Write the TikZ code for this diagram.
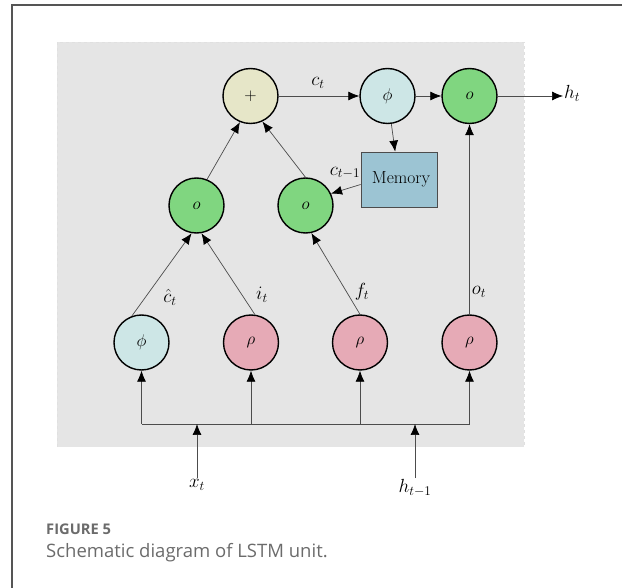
\documentclass[tikz,border=0pt]{standalone}
\usepackage{fix-cm}
\usepackage{fontspec}
\newfontfamily\capfont{Open Sans}
\usetikzlibrary{arrows.meta}

\definecolor{bggray}{HTML}{E5E5E5}
\definecolor{plusfill}{HTML}{E6E6C8}
\definecolor{phifill}{HTML}{CDE6E6}
\definecolor{gatefill}{HTML}{80D680}
\definecolor{sigfill}{HTML}{E6AAB6}
\definecolor{memfill}{HTML}{9CC4D3}
\definecolor{framecol}{HTML}{555555}
\definecolor{captext}{HTML}{6B6B6B}

\tikzset{
  unit/.style={circle, draw=black, line width=1.4pt, minimum size=55pt, inner sep=0pt,
               font=\fontsize{17}{20}\selectfont},
  lbl/.style={font=\fontsize{19}{22}\selectfont, inner sep=1pt},
  conn/.style={draw=black!70, line width=0.7pt, -{Latex[length=11pt,width=9pt,black]}},
  wire/.style={draw=black!70, line width=0.7pt},
}

\begin{document}
\begin{tikzpicture}[x=1pt, y=-1pt]
  \useasboundingbox (0,0) rectangle (622,588);
  \clip (0,0) rectangle (622,588);

  % outer figure frame (open to the right and bottom)
  \draw[framecol, line width=1.5pt] (12,640) -- (12,5) -- (660,5);

  % shaded cell region
  \fill[bggray] (57,42) rectangle (524,447);
  \draw[white!88!black, dashed, line width=0.5pt] (57,447) -- (57,42) -- (524,42) -- (524,447);

  % top row
  \node[unit, fill=plusfill] (plus) at (250.5,96) {$+$};
  \node[unit, fill=phifill]  (phit) at (387.5,96) {$\phi$};
  \node[unit, fill=gatefill] (ot)   at (469.5,96) {$o$};

  % memory cell
  \node[draw=black!70, line width=0.8pt, fill=memfill, minimum width=76pt, minimum height=55pt,
        inner sep=0pt, font=\fontsize{17.5}{21}\selectfont] (mem) at (399,179.5) {\hspace{4pt}Memory};

  % middle row
  \node[unit, fill=gatefill] (ol) at (196.5,205.5) {$o$};
  \node[unit, fill=gatefill] (or) at (305.5,205.5) {$o$};

  % bottom row
  \node[unit, fill=phifill] (pb) at (141.5,342.5) {$\phi$};
  \node[unit, fill=sigfill] (r1) at (251,342.5)   {$\rho$};
  \node[unit, fill=sigfill] (r2) at (360,342.5)   {$\rho$};
  \node[unit, fill=sigfill] (r3) at (469.5,342.5) {$\rho$};

  % output label
  \node[lbl, anchor=west] (htl) at (563,93) {$h_t$};

  % inputs
  \node[lbl, anchor=north] (xt)  at (197,478) {$x_t$};
  \node[lbl, anchor=north] (htm) at (415,478) {$h_{t-1}$};

  % input bus
  \coordinate (busL) at (141.5,424);
  \coordinate (busR) at (469.5,424);
  \draw[wire] (busL) -- (busR);
  \draw[conn] (busL) -- (pb);
  \draw[conn] (r1 |- busL) -- (r1);
  \draw[conn] (r2 |- busL) -- (r2);
  \draw[conn] (busR) -- (r3);
  \draw[conn] (xt.north) -- (xt.north |- busL);
  \draw[conn] (htm.north) -- (htm.north |- busL);

  % gates to products
  \draw[conn] (pb.110) -- (ol.260);
  \draw[conn] (r1.82) -- (ol.280);
  \draw[conn] (r2.north) -- (or.282);
  \draw[conn] (r3.north) -- (ot.south);

  % products to sum
  \draw[conn] (ol.68) -- (plus.248);
  \draw[conn] (or.north) -- (plus.295);

  % cell state path
  \draw[conn] (plus) -- (phit);
  \draw[conn] (phit) -- (ot);
  \draw[conn] (ot) -- (htl.west |- ot);
  \draw[conn] (phit) -- (mem);
  \draw[conn] ([yshift=-5pt]mem.west) -- (or.25);

  % signal labels
  \node[lbl] at (318,83)  {$c_t$};
  \node[lbl] at (345,173) {$c_{t-1}$};
  \node[lbl] at (170,297) {$\hat{c}_t$};
  \node[lbl] at (262,295) {$i_t$};
  \node[lbl] at (362,292) {$f_t$};
  \node[lbl] at (479,292) {$o_t$};

  % caption
  \node[anchor=base west, inner sep=0pt, text=captext, font=\capfont\bfseries\fontsize{14.7}{17}\selectfont]
    (figno) at (46,534) {FIGURE 5};
  \node[anchor=base west, inner sep=0pt, text=captext, font=\capfont\fontsize{18.5}{22}\selectfont]
    (captxt) at (46,557) {Schematic diagram of LSTM unit.};
\end{tikzpicture}
\end{document}
